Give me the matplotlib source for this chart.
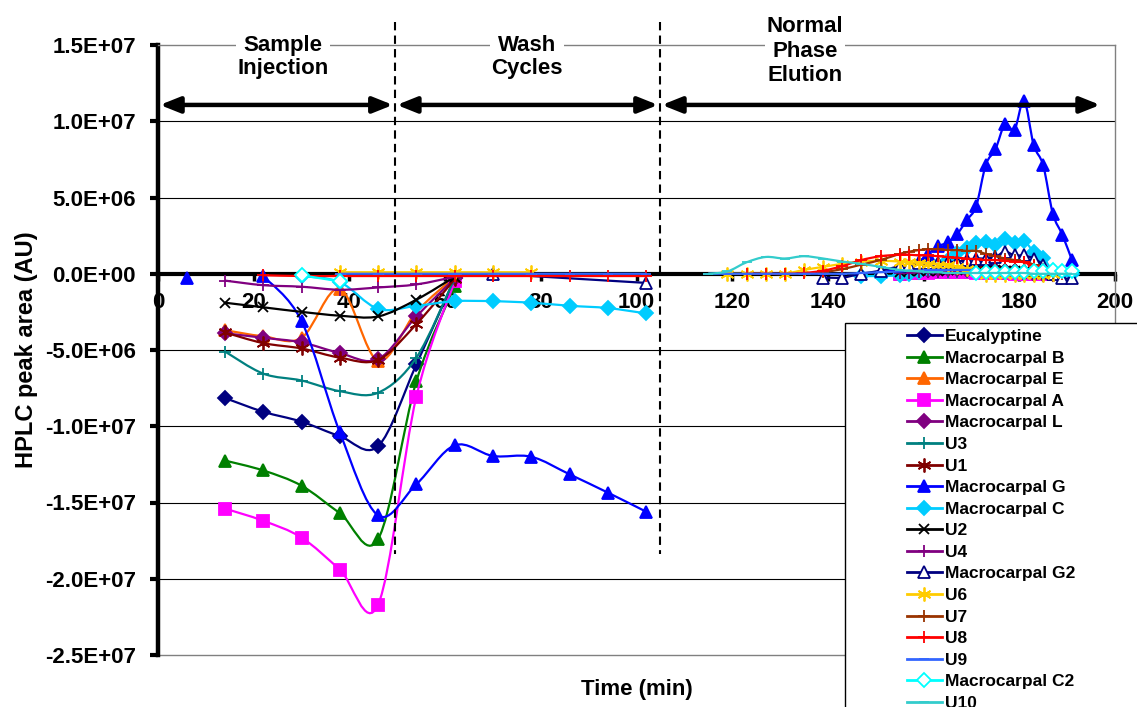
import numpy as np
import matplotlib
matplotlib.use('Agg')
import matplotlib.pyplot as plt
from matplotlib.path import Path
from matplotlib.patches import PathPatch, Rectangle, ArrowStyle
from matplotlib.lines import Line2D
from matplotlib.ticker import FuncFormatter, MultipleLocator

plt.rcParams['font.family'] = ['Liberation Sans', 'DejaVu Sans']
plt.rcParams['font.weight'] = 'bold'

# sample times (min)
t_inj = [14, 22, 30, 38, 46, 54, 62, 70, 78, 86, 94, 102]
t_g = [22, 30, 38, 46, 54, 62, 70, 78, 86, 94, 102]
t_el = [115, 119, 123, 127, 131, 135, 139, 143, 147, 151, 155,
        157, 159, 161, 163, 165, 167, 169, 171, 173, 175, 177, 179, 181, 183, 185, 187, 189, 191]

# peak areas, millions AU - injection + wash cycles
eucalyptine_inj = [-8.15, -9.05, -9.7, -10.65, -11.3, -5.95, -0.3]
macro_b_inj = [-12.25, -12.9, -13.9, -15.7, -17.4, -7.05, -0.8]
macro_e_inj = [-3.7, -4.1, -4.2, -1.0, -5.7, -2.5, -0.2]
macro_a_inj = [-15.4, -16.2, -17.3, -19.4, -21.7, -8.05, -0.5]
macro_l_inj = [-3.9, -4.2, -4.5, -5.2, -5.6, -2.8, -0.3]
u3_inj = [-5.1, -6.55, -7.0, -7.7, -7.8, -5.5, -0.3]
u1_inj = [-3.85, -4.55, -4.9, -5.5, -5.65, -3.3, -0.35]
macro_g_first = [-0.25]   # lone point at 6 min
macro_g_inj = [-0.15, -3.1, -10.4, -15.85, -13.8, -11.25, -11.95, -12.0, -13.15, -14.35, -15.6]
macro_c_inj = [-0.15, -0.55, -2.3, -2.1, -1.8, -1.8, -1.9, -2.1, -2.25, -2.6]
u2_inj = [-1.9, -2.2, -2.5, -2.75, -2.8, -1.7, -0.2]
u4_inj = [-0.45, -0.75, -0.85, -1.05, -0.9, -0.7, -0.2]
macro_g2_inj = [0, -0.6]
u6_inj = [0.1, 0.1, 0.1, 0.1, 0.1, 0.1]
u8_inj = [-0.1, -0.15, -0.15, -0.15, -0.15, -0.15, -0.15, -0.15, -0.15, -0.15, -0.15]
u9_inj = [0, 0, 0, 0, 0, 0, 0, 0, 0]
macro_c2_inj = [-0.1, -0.5]

# peak areas, millions AU - normal phase elution
eucalyptine_el = [0.1, 0.15, 0.2, 0.25, 0.3, 0.35, 0.4, 0.4, 0.35, 0.3, 0.25, 0.2, 0.15, 0.1, 0.05, 0, 0]
macro_b_el = [0, 0.05, 0.05, 0.1, 0.1, 0.1, 0.1, 0.1, 0.1, 0.1, 0.1, 0.05, 0.05, 0.05, 0, 0, 0]
macro_e_el = [0.1, 0.1, 0.15, 0.15, 0.2, 0.2, 0.2, 0.2, 0.15, 0.15, 0.1, 0.1, 0.05, 0.05, 0, 0, 0]
macro_a_el = [0, 0.05, 0.05, 0.05, 0.1, 0.1, 0.1, 0.1, 0.05, 0.05, 0.05, 0.05, 0, 0, 0, 0, 0]
macro_l_el = [0.15, 0.2, 0.2, 0.25, 0.3, 0.3, 0.3, 0.25, 0.2, 0.2, 0.15, 0.1, 0.1, 0.05, 0, 0, 0]
u3_el = [0.05, 0.1, 0.1, 0.1, 0.1, 0.1, 0.1, 0.1, 0.1, 0.1, 0.05, 0.05, 0.05, 0.05, 0, 0, 0]
u1_el = [0.3, 0.35, 0.4, 0.4, 0.4, 0.4, 0.35, 0.35, 0.3, 0.3, 0.25, 0.2, 0.2, 0.15, 0.1, 0.05, 0]
u2_el = [0.1, 0.15, 0.2, 0.2, 0.2, 0.25, 0.25, 0.3, 0.3, 0.3, 0.25, 0.2, 0.15, 0.1, 0.05, 0, 0]
u4_el = [0.05, 0.05, 0.1, 0.1, 0.1, 0.15, 0.15, 0.15, 0.15, 0.1, 0.1, 0.1, 0.05, 0.05, 0, 0, 0]
macro_g_el = [0.1, 0.3, 0.5, 0.8, 1.3, 1.8, 2.05, 2.6, 3.5, 4.45, 7.15, 8.15, 9.8, 9.45, 11.35, 8.45, 7.1, 3.95, 2.55, 0.9]
macro_c_el = [-0.15, -0.15, -0.1, 0, 0.1, 0.3, 0.6, 0.9, 1.35, 1.7, 2.0, 2.1, 1.9, 2.25, 2.0, 2.15, 1.45, 1.05, 0.2, 0.05, 0]
macro_g2_el = [-0.25, -0.25, 0, 0.2, 0.5, 0.6, 0.7, 0.7, 0.7, 0.75, 0.8, 0.9, 1.0, 1.0, 1.1, 1.45, 1.2, 1.2, 1.0, 0.6, 0, -0.3, -0.3]
u6_el = [0, 0, 0, 0, 0.25, 0.45, 0.65, 0.8, 0.85, 0.8, 0.75, 0.7, 0.65, 0.6, 0.55, 0.45, 0.3, 0.1, -0.05, -0.1, -0.1, -0.1, -0.1, -0.1, -0.05, 0]
u7_el = [0.1, 0.3, 0.6, 0.9, 1.3, 1.45, 1.55, 1.6, 1.6, 1.55, 1.55, 1.5, 1.5, 1.3, 1.15, 1.0, 0.9, 0.8, 0.6, 0.3, 0.05]
u8_el = [0, 0, 0, 0.05, 0.2, 0.5, 0.9, 1.15, 1.25, 1.25, 1.2, 1.2, 1.15, 1.1, 1.05, 1.0, 0.95, 0.9, 0.9, 0.85, 0.8, 0.75, 0.5, 0.3, 0.1, 0]
u9_el = [0, 0, 0, 0, 0, 0, 0, 0, 0.05, 0.1, 0.15, 0.2, 0.2, 0.25, 0.25, 0.25, 0.25, 0.25, 0.25, 0.25, 0.25, 0.2, 0.2, 0.2, 0.15, 0.1, 0.05, 0, 0]
macro_c2_el = [0.05, 0.1, 0.1, 0.1, 0.1, 0.1, 0.15, 0.2, 0.22, 0.2, 0.18]
u10_el = [0, 0.15, 0.75, 1.1, 1.0, 1.15, 1.0, 0.8, 0.65, 0.45, 0.25, 0.2, 0.15, 0.1, 0.1, 0.05, 0.05, 0.05, 0.05, 0.05, 0.05, 0.05, 0.05, 0.05, 0, 0, 0, 0, 0]

t_main = t_inj[:7]       # most compounds are washed out by 62 min
t_late = t_el[10:27]     # 155-187 min

# name, colour, marker, size, face, segments
series = [
    ("Eucalyptine", "#000080", "D", 7, None, [(t_main, eucalyptine_inj), (t_late, eucalyptine_el)]),
    ("Macrocarpal B", "#008000", "^", 9, None, [(t_main, macro_b_inj), (t_late, macro_b_el)]),
    ("Macrocarpal E", "#FF6600", "^", 9, None, [(t_main, macro_e_inj), (t_late, macro_e_el)]),
    ("Macrocarpal A", "#FF00FF", "s", 8, None, [(t_main, macro_a_inj), (t_late, macro_a_el)]),
    ("Macrocarpal L", "#800080", "D", 7, None, [(t_main, macro_l_inj), (t_late, macro_l_el)]),
    ("U3", "#008080", "+", 9, None, [(t_main, u3_inj), (t_late, u3_el)]),
    ("U1", "#800000", (6, 2, 0), 10, None, [(t_main, u1_inj), (t_late, u1_el)]),
    ("Macrocarpal G", "#0000FF", "^", 9, None,
     [([6], macro_g_first), (t_g, macro_g_inj), (t_el[9:], macro_g_el)]),
    ("Macrocarpal C", "#00CCFF", "D", 7, None, [(t_inj[2:], macro_c_inj), (t_el[8:], macro_c_el)]),
    ("U2", "#000000", "x", 7, None, [(t_main, u2_inj), (t_late, u2_el)]),
    ("U4", "#800080", "+", 9, None, [(t_main, u4_inj), (t_late, u4_el)]),
    ("Macrocarpal G2", "#000080", "^", 8, "white", [([70, 102], macro_g2_inj), (t_el[6:], macro_g2_el)]),
    ("U6", "#FFCC00", (6, 2, 0), 10, None, [(t_inj[3:9], u6_inj), (t_el[1:27], u6_el)]),
    ("U7", "#993300", "+", 9, None, [(t_el[6:27], u7_el)]),
    ("U8", "#FF0000", "+", 9, None, [(t_inj[1:], u8_inj), (t_el[2:28], u8_el)]),
    ("U9", "#3366FF", "_", 7, None, [(t_inj[3:], u9_inj), (t_el, u9_el)]),
    ("Macrocarpal C2", "#00FFFF", "D", 7, "white", [(t_inj[2:4], macro_c2_inj), (t_el[18:], macro_c2_el)]),
    ("U10", "#33CCCC", "_", 7, None, [(t_el, u10_el)]),
]


def smooth_path(x, y):
    # Excel-like smoothed line: cubic bezier through the points
    p = np.column_stack([x, y]).astype(float)
    n = len(p)
    verts = [p[0]]
    codes = [Path.MOVETO]
    for i in range(n - 1):
        p0 = p[i - 1] if i > 0 else p[i]
        p3 = p[i + 2] if i + 2 < n else p[i + 1]
        verts += [p[i] + (p[i + 1] - p0) / 6, p[i + 1] - (p3 - p[i]) / 6, p[i + 1]]
        codes += [Path.CURVE4] * 3
    return Path(verts, codes)


W, H = 1137, 707
fig = plt.figure(figsize=(W / 100, H / 100), dpi=100)
ax = fig.add_axes([158 / W, (H - 655) / H, (1115 - 158) / W, (655 - 45) / H])

ax.set_xlim(0, 200)
ax.set_ylim(-2.5e7, 1.5e7)
ax.xaxis.set_major_locator(MultipleLocator(20))
ax.yaxis.set_major_locator(MultipleLocator(5e6))
ax.yaxis.set_major_formatter(FuncFormatter(lambda v, p: f"{v:.1E}"))

for v in np.arange(-2.0e7, 1.01e7, 5e6):
    if abs(v) > 1:
        ax.axhline(v, color="black", lw=0.8, zorder=1)

handles = []
for k, (name, col, mk, ms, face, segs) in enumerate(series):
    z = 3 + k * 0.01
    mfc = face if face else col
    for tx, vals in segs:
        y = np.array(vals) * 1e6
        if len(tx) > 1:
            ax.add_patch(PathPatch(smooth_path(tx, y), fill=False, edgecolor=col, lw=1.6, zorder=z))
        ax.plot(tx, y, ls="none", marker=mk, ms=ms, mfc=mfc, mec=col, mew=1.3, zorder=z + 0.005)
    handles.append(Line2D([], [], color=col, lw=2, marker=mk, ms=ms, mfc=mfc, mec=col, mew=1.3))

# axes frame
for s in ["top", "right"]:
    ax.spines[s].set_color("#808080")
    ax.spines[s].set_linewidth(1)
ax.spines["left"].set_linewidth(3.2)
ax.spines["bottom"].set_position(("data", 0))
ax.spines["bottom"].set_linewidth(3)
ax.spines["bottom"].set_zorder(2)
ax.axhline(-2.5e7, color="#808080", lw=1, clip_on=False)

ax.tick_params(axis="x", direction="out", length=5, width=2.5, pad=8, labelsize=16)
ax.tick_params(axis="y", direction="out", length=6, width=3, pad=10, labelsize=16)
ax.set_ylabel("HPLC peak area (AU)", fontsize=17, fontweight="bold", labelpad=5)
ax.text(0.5, (655 - 690) / 610, "Time (min)", transform=ax.transAxes, ha="center", va="center", fontsize=16)

# phase separators
for xv in [49.5, 105]:
    ax.plot([xv, xv], [1.65e7, -1.84e7], color="black", lw=1.5, ls=(0, (4, 2.5)), clip_on=False, zorder=4)

arrow = ArrowStyle("<|-|>", head_length=0.4, head_width=0.16)
for x0, x1 in [(0.4, 49.1), (49.9, 104.5), (105.3, 196.9)]:
    ax.annotate("", xy=(x1, 1.107e7), xytext=(x0, 1.107e7),
                arrowprops=dict(arrowstyle=arrow, lw=3.2, color="black", mutation_scale=30,
                                shrinkA=0, shrinkB=0), zorder=4)

box = dict(facecolor="white", edgecolor="none", pad=1)
ax.text(26.1, 1.42e7, "Sample\nInjection", ha="center", va="center", fontsize=16, linespacing=1.15, bbox=box, zorder=5)
ax.text(77.1, 1.42e7, "Wash\nCycles", ha="center", va="center", fontsize=16, linespacing=1.15, bbox=box, zorder=5)
ax.text(135.2, 1.46e7, "Normal\nPhase\nElution", ha="center", va="center", fontsize=16, linespacing=1.2,
        bbox=box, clip_on=False, zorder=5)

# legend box, runs off the bottom of the figure
fig.add_artist(Rectangle((845 / W, -0.2), 0.5, 1 - 323 / H + 0.2, transform=fig.transFigure,
                         facecolor="white", edgecolor="black", lw=1, zorder=3))
fig.legend(handles, [s[0] for s in series], loc="upper left", bbox_to_anchor=(907 / W, 1 - 329 / H),
           frameon=False, borderpad=0, borderaxespad=0, handlelength=2.0, handletextpad=0.2,
           labelspacing=0.37, fontsize=12.5)

fig.savefig("out.png", dpi=100)
